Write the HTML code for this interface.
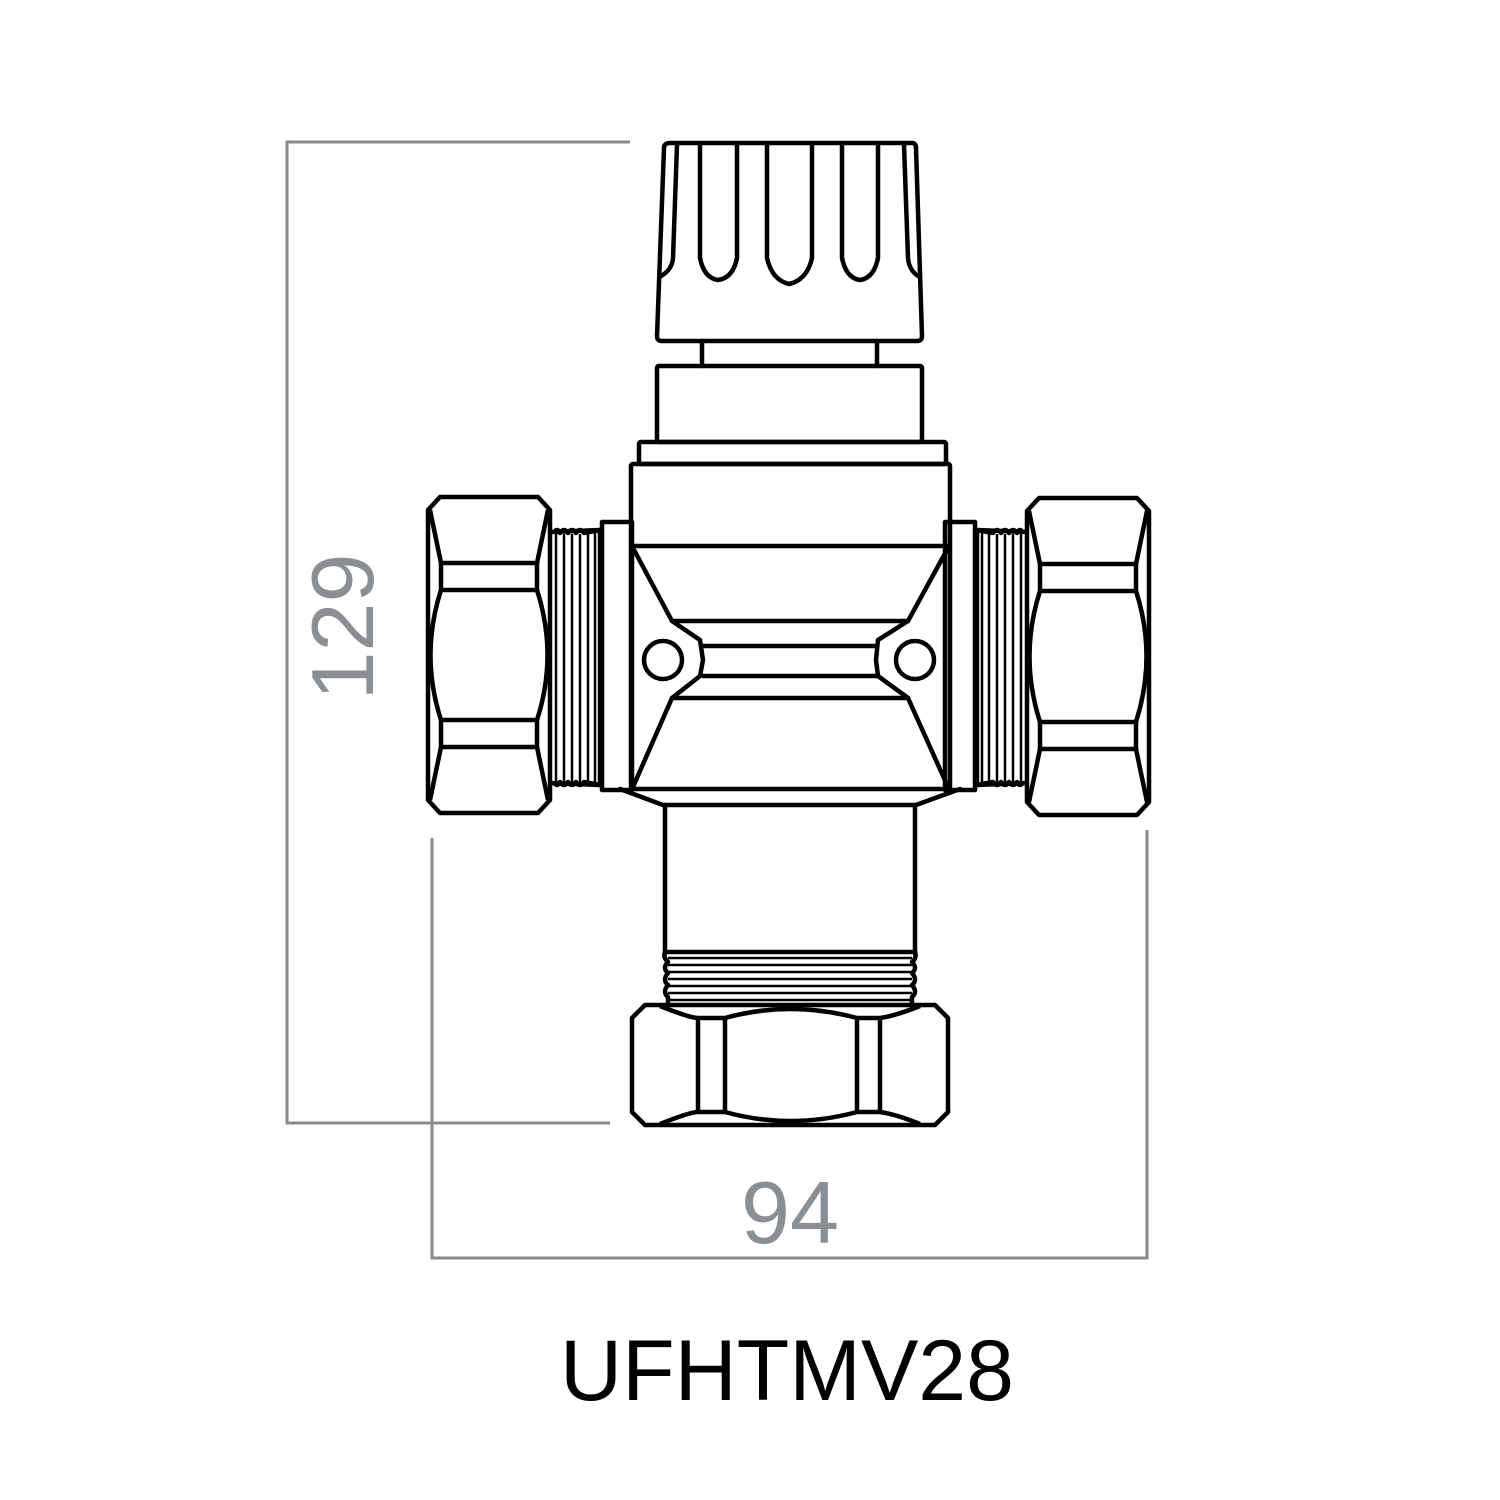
<!DOCTYPE html>
<html><head><meta charset="utf-8"><style>html,body{margin:0;padding:0;background:#fff}svg{display:block}</style></head>
<body>
<svg width="1500" height="1500" viewBox="0 0 1500 1500" xmlns="http://www.w3.org/2000/svg">
<rect width="1500" height="1500" fill="#fff"/>
<!-- dimension lines -->
<g stroke="#8a8a8a" stroke-width="3" fill="none">
<polyline points="630,142 287,142 287,1123 610,1123"/>
<polyline points="432,838 432,1258 1147,1258 1147,830"/>
</g>
<text x="0" y="0" transform="translate(373,627) rotate(-90)" font-family="Liberation Sans, sans-serif" font-size="88" fill="#8a8f94" text-anchor="middle">129</text>
<text x="790" y="1243" font-family="Liberation Sans, sans-serif" font-size="88" fill="#8a8f94" text-anchor="middle">94</text>
<text x="787" y="1400" font-family="Liberation Sans, sans-serif" font-size="86" fill="#000" text-anchor="middle">UFHTMV28</text>

<g stroke="#000" stroke-width="4.5" fill="none" stroke-linejoin="round" stroke-linecap="round">
<!-- knob -->
<path d="M670,143 L912,143 Q916,143 916,148 L922,336 Q922,341 917,341 L662,341 Q657,341 657,336 L664,148 Q664,143 670,143 Z"/>
<path d="M677,145 L673,258 Q672,270 661,276"/>
<path d="M904,145 L908,258 Q909,270 918,276"/>
<path d="M700,145 L700,258 Q704,278 718,280 Q733,278 737,258 L737,145"/>
<path d="M767,145 L767,258 Q772,280 789,284 Q807,280 812,258 L812,145"/>
<path d="M842,145 L842,258 Q846,278 860,280 Q874,278 878,258 L878,145"/>
<!-- neck -->
<line x1="702" y1="341" x2="702" y2="366"/>
<line x1="877" y1="341" x2="877" y2="366"/>
<!-- cap -->
<rect x="657" y="366" width="265" height="76" rx="2"/>
<!-- ring -->
<rect x="639" y="442" width="307" height="22" rx="2"/>
<!-- body -->
<rect x="631" y="464" width="319" height="325" rx="2"/>
<line x1="631" y1="546" x2="950" y2="546"/>
<path d="M633,548 L672,621 L908,621 L948,548"/>
<path d="M672,621 L700,640 L703,660 L700,676 L672,698"/>
<path d="M908,621 L878,640 L876,660 L878,676 L908,698"/>
<line x1="703" y1="646" x2="877" y2="646"/>
<line x1="703" y1="676" x2="877" y2="676"/>
<line x1="672" y1="698" x2="908" y2="698"/>
<path d="M633,787 L672,698"/>
<path d="M948,787 L908,698"/>
<circle cx="663" cy="660" r="19"/>
<circle cx="915" cy="660" r="19"/>
<path d="M620,789 L663,805 L916,805 L960,789"/>
<!-- lower tube -->
<line x1="665" y1="805" x2="665" y2="952"/>
<line x1="915" y1="805" x2="915" y2="952"/>
<line x1="665" y1="952" x2="915" y2="952"/>
<path d="M665,952 Q663,958 668,962 Q662,968 668,973 Q662,980 668,985 Q662,992 668,997 L668,1005"/>
<path d="M915,952 Q917,958 912,962 Q918,968 912,973 Q918,980 912,985 Q918,992 912,997 L912,1005"/>
</g>
<g stroke="#000" stroke-width="2.5">
<line x1="668" y1="958" x2="912" y2="958"/>
<line x1="668" y1="965" x2="912" y2="965"/>
<line x1="668" y1="972" x2="912" y2="972"/>
<line x1="668" y1="979" x2="912" y2="979"/>
<line x1="668" y1="986" x2="912" y2="986"/>
<line x1="668" y1="993" x2="912" y2="993"/>
<line x1="668" y1="1000" x2="912" y2="1000"/>
</g>
<!-- bottom nut -->
<g stroke="#000" stroke-width="4.5" fill="none" stroke-linejoin="round">
<path d="M645,1005 L935,1005 L948,1018 L948,1112 L935,1125 L645,1125 L632,1112 L632,1018 Z"/>
<line x1="698" y1="1018" x2="698" y2="1112"/>
<line x1="725" y1="1018" x2="725" y2="1112"/>
<line x1="857" y1="1018" x2="857" y2="1112"/>
<line x1="880" y1="1018" x2="880" y2="1112"/>
<path d="M660,1006 Q690,1018 698,1018 L725,1018 Q790,1000 857,1018 L880,1018 Q895,1016 920,1006"/>
<path d="M660,1124 Q690,1112 698,1112 L725,1112 Q790,1130 857,1112 L880,1112 Q895,1114 920,1124"/>
</g>
<!-- side nuts -->
<g id="side" stroke="#000" stroke-width="4.5" fill="none" stroke-linejoin="round">
<rect x="602" y="522" width="30" height="268"/>
<path d="M550,532 L600,530 L600,785 L550,783"/>
<path d="M554,533 Q557,527 560,533 Q564,527 568,533 Q572,527 576,533 Q580,527 584,533 L600,530"/>
<path d="M554,782 Q557,788 560,782 Q564,788 568,782 Q572,788 576,782 Q580,788 584,782 L600,785"/>
<path d="M440,497 L538,497 L550,510 L550,800 L538,813 L440,813 L428,800 L428,510 Z"/>
<path d="M430,510 L441,563 L537,563 L548,510"/>
<path d="M430,800 L441,747 L537,747 L548,800"/>
<line x1="441" y1="590" x2="537" y2="590"/>
<line x1="441" y1="720" x2="537" y2="720"/>
<line x1="441" y1="563" x2="441" y2="590"/>
<line x1="537" y1="563" x2="537" y2="590"/>
<line x1="441" y1="720" x2="441" y2="747"/>
<line x1="537" y1="720" x2="537" y2="747"/>
<path d="M441,590 Q420,655 441,720"/>
<path d="M537,590 Q558,655 537,720"/>
</g>
<g stroke="#000" stroke-width="2.5">
<line x1="556" y1="534" x2="556" y2="782"/>
<line x1="564" y1="534" x2="564" y2="782"/>
<line x1="572" y1="534" x2="572" y2="782"/>
<line x1="580" y1="534" x2="580" y2="782"/>
<line x1="588" y1="532" x2="588" y2="784"/>
<line x1="595" y1="531" x2="595" y2="784"/>
</g>
<g transform="translate(1577,0) scale(-1,1)">
<g stroke="#000" stroke-width="4.5" fill="none" stroke-linejoin="round">
<rect x="602" y="522" width="30" height="268"/>
<path d="M550,532 L600,530 L600,785 L550,783"/>
<path d="M554,533 Q557,527 560,533 Q564,527 568,533 Q572,527 576,533 Q580,527 584,533 L600,530"/>
<path d="M554,782 Q557,788 560,782 Q564,788 568,782 Q572,788 576,782 Q580,788 584,782 L600,785"/>
<path d="M440,498 L538,498 L550,511 L550,802 L538,815 L440,815 L428,802 L428,511 Z"/>
<path d="M430,511 L441,564 L537,564 L548,511"/>
<path d="M430,802 L441,749 L537,749 L548,802"/>
<line x1="441" y1="591" x2="537" y2="591"/>
<line x1="441" y1="722" x2="537" y2="722"/>
<line x1="441" y1="564" x2="441" y2="591"/>
<line x1="537" y1="564" x2="537" y2="591"/>
<line x1="441" y1="722" x2="441" y2="749"/>
<line x1="537" y1="722" x2="537" y2="749"/>
<path d="M441,591 Q420,656 441,722"/>
<path d="M537,591 Q558,656 537,722"/>
</g>
<g stroke="#000" stroke-width="2.5">
<line x1="556" y1="534" x2="556" y2="782"/>
<line x1="564" y1="534" x2="564" y2="782"/>
<line x1="572" y1="534" x2="572" y2="782"/>
<line x1="580" y1="534" x2="580" y2="782"/>
<line x1="588" y1="532" x2="588" y2="784"/>
<line x1="595" y1="531" x2="595" y2="784"/>
</g>
</g>
</svg>
</body></html>
